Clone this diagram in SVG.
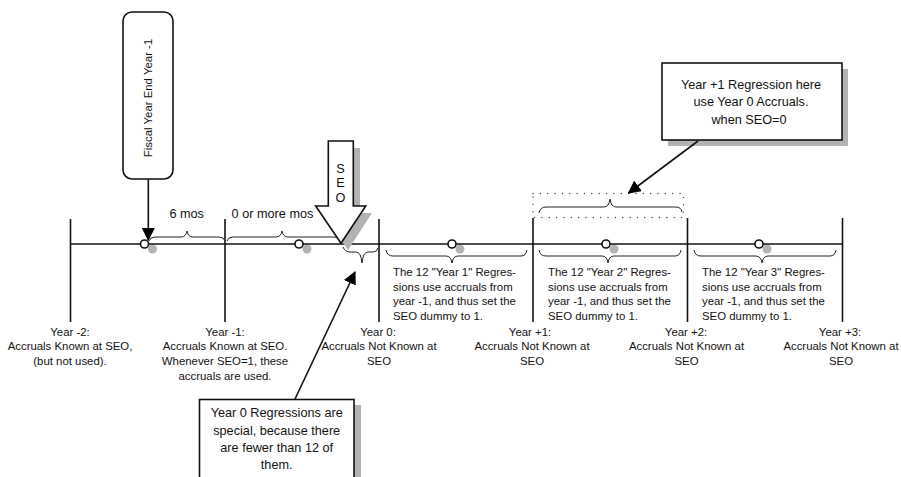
<svg xmlns="http://www.w3.org/2000/svg" width="901" height="477" viewBox="0 0 901 477">
<defs>
<marker id="ah" viewBox="0 0 10 10" refX="9" refY="5" markerWidth="10" markerHeight="10" markerUnits="userSpaceOnUse" orient="auto">
<path d="M0,0 L10,5 L0,10 z" fill="#000"/>
</marker>
<marker id="ahb" viewBox="0 0 12 12" refX="11" refY="6" markerWidth="13" markerHeight="13" markerUnits="userSpaceOnUse" orient="auto">
<path d="M0,0 L12,6 L0,12 z" fill="#000"/>
</marker>
</defs>
<style>
text{font-family:"Liberation Sans",Arial,sans-serif;fill:#111}
.lbl{font-size:11.4px;text-anchor:middle}
.blk{font-size:11.4px}
.big{font-size:12.7px;text-anchor:middle}
.line{stroke:#111;stroke-width:1.6;fill:none}
.brace{stroke:#222;stroke-width:1;fill:none}
.shadow{fill:#b3b3b3}
.box{fill:#fff;stroke:#111;stroke-width:1.6}
.dot{fill:#fff;stroke:#111;stroke-width:1.6}
</style>
<rect width="901" height="477" fill="#fff"/>

<g id="timeline">
<circle class="shadow" cx="152.5" cy="249" r="4.5"/>
<circle class="shadow" cx="307" cy="249" r="4.5"/>
<circle class="shadow" cx="460" cy="249" r="4.5"/>
<circle class="shadow" cx="614" cy="249" r="4.5"/>
<circle class="shadow" cx="767" cy="249" r="4.5"/>
<line class="line" x1="70" y1="244" x2="843" y2="244"/>
<line class="line" x1="70.5" y1="219" x2="70.5" y2="322"/>
<line class="line" x1="225" y1="219" x2="225" y2="322"/>
<line class="line" x1="379" y1="219" x2="379" y2="322"/>
<line class="line" x1="533" y1="218" x2="533" y2="322"/>
<line class="line" x1="687.5" y1="218" x2="687.5" y2="322"/>
<line class="line" x1="842.5" y1="218" x2="842.5" y2="322"/>
<circle class="dot" cx="144.5" cy="244" r="4"/>
<circle class="dot" cx="299" cy="244" r="4"/>
<circle class="dot" cx="452" cy="244" r="4"/>
<circle class="dot" cx="606" cy="244" r="4"/>
<circle class="dot" cx="759" cy="244" r="4"/>
</g>

<g id="braces">
<path class="brace" d="M149,241 Q150,237 155,237 L181,237 Q186,237 187,231 Q188,237 193,237 L219,237 Q224,237 225,241"/>
<path class="brace" d="M227,241 Q228,237 233,237 L276,237 Q281,237 282,231 Q283,237 288,237 L334,237 Q339,237 340,241"/>
<path class="brace" d="M343,247 Q345,252 350,252 L356,252 Q361,252 362,263 Q363,252 368,252 L373,252 Q377,252 378,248"/>
<path class="brace" d="M386,250 Q387,256 393,256 L446,256 Q451,256 452,263 Q453,256 458,256 L521,256 Q526,256 527,250"/>
<path class="brace" d="M539,250 Q540,256 546,256 L602,256 Q607,256 608,263 Q609,256 614,256 L675,256 Q680,256 681,250"/>
<path class="brace" d="M694,250 Q695,256 701,256 L756,256 Q761,256 762,263 Q763,256 768,256 L830,256 Q835,256 836,250"/>
<path class="brace" d="M539,213 Q540,207 546,207 L604,207 Q609,207 610,199 Q611,207 616,207 L676,207 Q681,207 682,212"/>
<rect x="533" y="193.5" width="150.5" height="24" fill="none" stroke="#444" stroke-width="1.3" stroke-linecap="round" stroke-dasharray="0.1 7.25"/>
<text class="big" x="186.7" y="217.5">6 mos</text>
<text class="big" x="272.5" y="217.5">0 or more mos</text>
</g>

<g id="seo-arrow">
<path class="shadow" d="M335,148 L360,148 L360,213 L372,213 L348,250 L322,213 L335,213 z"/>
<path d="M328.3,141 L353.3,141 L353.3,206 L365.7,206 L341,243.3 L315.7,206 L328.3,206 z" fill="#fff" stroke="#111" stroke-width="1.6" stroke-linejoin="miter"/>
<text class="big" x="340.5" y="172.5">S</text>
<text class="big" x="340.5" y="186.5">E</text>
<text class="big" x="340.5" y="201.5">O</text>
</g>

<g id="fiscal-box">
<rect class="box" x="123" y="12" width="50" height="167" rx="9"/>
<text class="lbl" transform="translate(151.5,98) rotate(-90)" style="font-size:11.4px">Fiscal Year End Year -1</text>
</g>

<g id="note-top">
<rect class="shadow" x="668" y="69" width="180" height="77"/>
<rect class="box" x="662" y="63" width="180" height="77"/>
<text class="big" x="751" y="88.5">Year +1 Regression here</text>
<text class="big" x="751" y="106">use Year 0 Accruals.</text>
<text class="big" x="749" y="123.5">when SEO=0</text>
</g>

<g id="note-year0">
<rect class="shadow" x="206" y="405" width="155" height="80"/>
<rect class="box" x="199.5" y="399.5" width="154.5" height="85"/>
<text class="big" x="276.7" y="417">Year 0 Regressions are</text>
<text class="big" x="276.7" y="434.5">special, because there</text>
<text class="big" x="276.7" y="451.5">are fewer than 12 of</text>
<text class="big" x="276.7" y="469">them.</text>
</g>

<g id="connectors">
<line class="line" x1="148.3" y1="179" x2="148.3" y2="240" marker-end="url(#ahb)"/>
<line class="line" x1="698" y1="141" x2="628.5" y2="193" marker-end="url(#ahb)"/>
<line class="line" x1="295" y1="399" x2="355" y2="272" marker-end="url(#ahb)"/>
</g>

<g id="blocks">
<text class="blk" x="393" y="276">The 12 "Year 1" Regres-</text>
<text class="blk" x="393" y="290.5">sions use accruals from</text>
<text class="blk" x="393" y="305">year -1, and thus set the</text>
<text class="blk" x="393" y="319.5">SEO dummy to 1.</text>
<text class="blk" x="548" y="276">The 12 "Year 2" Regres-</text>
<text class="blk" x="548" y="290.5">sions use accruals from</text>
<text class="blk" x="548" y="305">year -1, and thus set the</text>
<text class="blk" x="548" y="319.5">SEO dummy to 1.</text>
<text class="blk" x="702" y="276">The 12 "Year 3" Regres-</text>
<text class="blk" x="702" y="290.5">sions use accruals from</text>
<text class="blk" x="702" y="305">year -1, and thus set the</text>
<text class="blk" x="702" y="319.5">SEO dummy to 1.</text>
</g>

<g id="labels">
<text class="lbl" x="70" y="335.5">Year -2:</text>
<text class="lbl" x="70" y="350">Accruals Known at SEO,</text>
<text class="lbl" x="70" y="364.5">(but not used).</text>
<text class="lbl" x="225" y="335.5">Year -1:</text>
<text class="lbl" x="225" y="350">Accruals Known at SEO.</text>
<text class="lbl" x="225" y="364.5">Whenever SEO=1, these</text>
<text class="lbl" x="225" y="379.5">accruals are used.</text>
<text class="lbl" x="378" y="335.5">Year 0:</text>
<text class="lbl" x="379" y="350">Accruals Not Known at</text>
<text class="lbl" x="379" y="364.5">SEO</text>
<text class="lbl" x="530" y="335.5">Year +1:</text>
<text class="lbl" x="532" y="350">Accruals Not Known at</text>
<text class="lbl" x="532" y="364.5">SEO</text>
<text class="lbl" x="686" y="335.5">Year +2:</text>
<text class="lbl" x="686.5" y="350">Accruals Not Known at</text>
<text class="lbl" x="686.5" y="364.5">SEO</text>
<text class="lbl" x="840" y="335.5">Year +3:</text>
<text class="lbl" x="841" y="350">Accruals Not Known at</text>
<text class="lbl" x="841" y="364.5">SEO</text>
</g>
</svg>
